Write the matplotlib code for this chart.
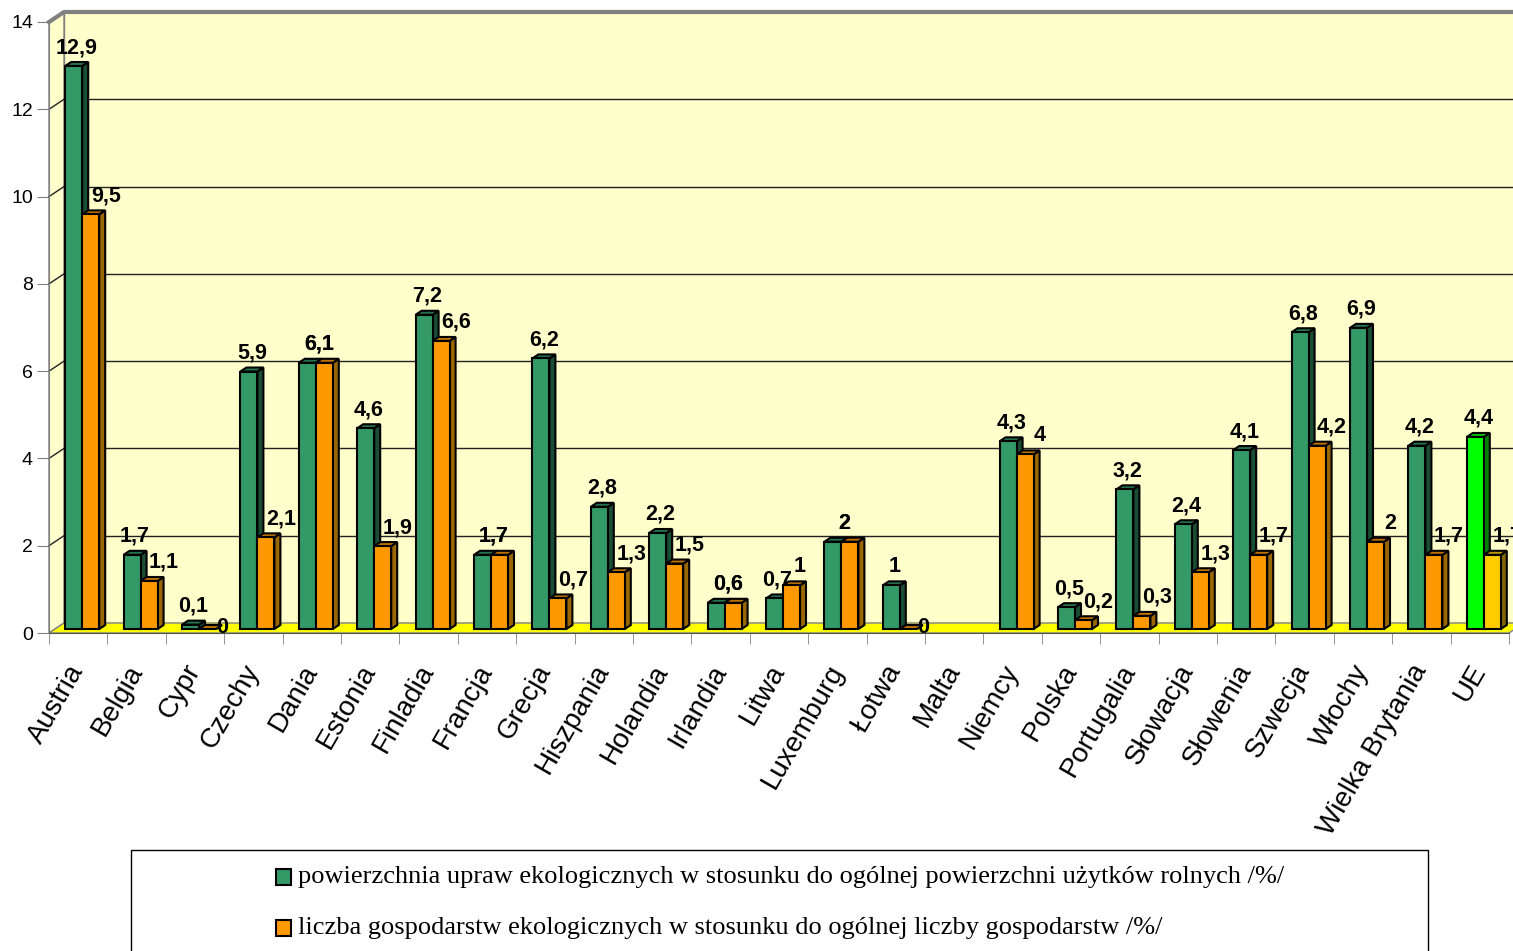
import numpy as np
import matplotlib
matplotlib.use('Agg')
import matplotlib.pyplot as plt
from matplotlib.patches import Polygon, Rectangle

plt.rcParams['font.family'] = ['Liberation Sans', 'DejaVu Sans']

countries = ['Austria', 'Belgia', 'Cypr', 'Czechy', 'Dania', 'Estonia', 'Finladia',
             'Francja', 'Grecja', 'Hiszpania', 'Holandia', 'Irlandia', 'Litwa',
             'Luxemburg', 'Łotwa', 'Malta', 'Niemcy', 'Polska', 'Portugalia',
             'Słowacja', 'Słowenia', 'Szwecja', 'Włochy', 'Wielka Brytania', 'UE']
# powierzchnia upraw ekologicznych /%/
area = [12.9, 1.7, 0.1, 5.9, 6.1, 4.6, 7.2, 1.7, 6.2, 2.8, 2.2, 0.6, 0.7,
        2.0, 1.0, np.nan, 4.3, 0.5, 3.2, 2.4, 4.1, 6.8, 6.9, 4.2, 4.4]
# liczba gospodarstw ekologicznych /%/
farms = [9.5, 1.1, 0.0, 2.1, 6.1, 1.9, 6.6, 1.7, 0.7, 1.3, 1.5, 0.6, 1.0,
         2.0, 0.0, np.nan, 4.0, 0.2, 0.3, 1.3, 1.7, 4.2, 2.0, 1.7, 1.7]
yticks = [0, 2, 4, 6, 8, 10, 12, 14]
legend_labels = ['powierzchnia upraw ekologicznych w stosunku do ogólnej powierzchni użytków rolnych /%/',
                 'liczba gospodarstw ekologicznych w stosunku do ogólnej liczby gospodarstw /%/']

# colours: front, top, side
green = ('#339966', '#267350', '#1a4d33')
orange = ('#ff9900', '#bf7300', '#996600')
green_ue = ('#00ff00', '#00bf00', '#008000')
orange_ue = ('#ffcc00', '#bf9900', '#806600')
wall = '#ffffcc'
floor = '#ffff00'
frame = '#808080'

W, H = 1513, 951
fig = plt.figure(figsize=(W / 100, H / 100), dpi=100)
left, right, bot, top = 49, 1509, 633, 22
ax = fig.add_axes([left / W, 1 - bot / H, (right - left) / W, (bot - top) / H])
n = len(countries)
ax.set_xlim(-0.5, n - 0.5)
ax.set_ylim(0, 14)
ux = n / (right - left)      # data units per pixel
uy = 14 / (bot - top)

# walls / floor
wx, wy = 15 * ux, 10 * uy
x0, x1 = -0.5, n - 0.5
ax.add_patch(Rectangle((x0 + wx, wy), n, 14, fc=wall, ec='none', zorder=0, clip_on=False))
ax.add_patch(Polygon([(x0, 0), (x0, 14), (x0 + wx, 14 + wy), (x0 + wx, wy)],
                     fc=wall, ec=frame, lw=1, zorder=0.5, clip_on=False))
ax.add_patch(Polygon([(x0, 0), (x1, 0), (x1 + wx, wy), (x0 + wx, wy)],
                     fc=floor, ec=frame, lw=1, zorder=0.6, clip_on=False))
for yv in yticks[1:-1]:
    ax.plot([x0 + wx, x1 + wx], [yv + wy, yv + wy], color='#222222', lw=1, zorder=0.4, clip_on=False)
    ax.plot([x0, x0 + wx], [yv, yv + wy], color='#222222', lw=1, zorder=0.7, clip_on=False)
ax.plot([x0, x0 + wx, x1 + wx], [14, 14 + wy, 14 + wy], color=frame, lw=3, zorder=0.8, clip_on=False)
ax.plot([x0 + wx, x0 + wx], [wy, 14 + wy], color=frame, lw=1, zorder=0.45, clip_on=False)

# bars
bx, by = 4 * ux, 4 * uy
dx, dy = 6 * ux, 4 * uy
bw = 17 * ux
x = np.arange(n)
xg = x + bx - bw / 2
xo = x + bx + bw / 2


def draw_bars(xc, vals, z):
    for i, v in enumerate(vals):
        if np.isnan(v):
            continue
        cols = (green_ue if i == n - 1 else green) if z == 3 else (orange_ue if i == n - 1 else orange)
        xl, xr = xc[i] - bw / 2, xc[i] + bw / 2
        t = by + v
        kw = dict(ec='black', lw=1.5, zorder=z, joinstyle='miter', clip_on=False)
        ax.add_patch(Polygon([(xr, by), (xr, t), (xr + dx, t + dy), (xr + dx, by + dy)], fc=cols[2], **kw))
        ax.add_patch(Polygon([(xl, t), (xr, t), (xr + dx, t + dy), (xl + dx, t + dy)], fc=cols[1], **kw))
        if v > 0:
            ax.bar(xc[i], v, width=bw, bottom=by, color=cols[0], edgecolor='black', lw=1.5, zorder=z)


draw_bars(xg, area, 3)
draw_bars(xo, farms, 4)


def fmt(v):
    return ('%g' % v).replace('.', ',')


lab = dict(ha='center', va='baseline', fontsize=15.5, fontweight='bold', textcoords='offset pixels')
for i in range(n):
    g, o = area[i], farms[i]
    if np.isnan(g):
        continue
    if g == o:
        gx = ox = x[i] + bx + 3 * ux
    else:
        gx = xg[i] + 3 * ux
        ox = xo[i] + (15 if o < g else 8) * ux
    ax.annotate(fmt(g), (gx, by + g), xytext=(0, 13 if g > 0 else -4), zorder=5, **lab)
    ax.annotate(fmt(o), (ox, by + o), xytext=(0, 13 if o > 0 else -4), zorder=2.5, **lab)

# axes
for s in ['top', 'right']:
    ax.spines[s].set_visible(False)
ax.spines['left'].set_color(frame)
ax.spines['bottom'].set_color('#555555')
ax.spines['left'].set_zorder(0.9)
ax.set_yticks(yticks)
ax.set_yticklabels([str(t) for t in yticks], fontsize=14)
ax.tick_params(axis='y', length=8.6, color=frame, pad=3)
ax.set_xticks(x)
ax.set_xticklabels(countries, rotation=60, ha='right', va='center',
                   rotation_mode='anchor', fontsize=20)
ax.tick_params(axis='x', which='major', length=0, pad=24)
ax.set_xticks(np.arange(n + 1) - 0.5, minor=True)
ax.tick_params(axis='x', which='minor', length=8, color=frame)
ax.patch.set_visible(False)

# legend
fig.add_artist(Rectangle((131 / W, 1 - 980 / H), (1428 - 131) / W, (980 - 850) / H,
                         transform=fig.transFigure, fill=False, ec='black', lw=1))
for k, (txt, col) in enumerate(zip(legend_labels, [green[0], orange[0]])):
    yc = 877 + 51 * k
    fig.add_artist(Rectangle((276 / W, 1 - (yc + 8) / H), 15 / W, 16 / H,
                             transform=fig.transFigure, fc=col, ec='black', lw=1.5))
    fig.text(298 / W, 1 - yc / H, txt, va='center', ha='left', fontsize=19,
             family=['Liberation Serif', 'DejaVu Serif'])

fig.savefig('out.png', dpi=100)
